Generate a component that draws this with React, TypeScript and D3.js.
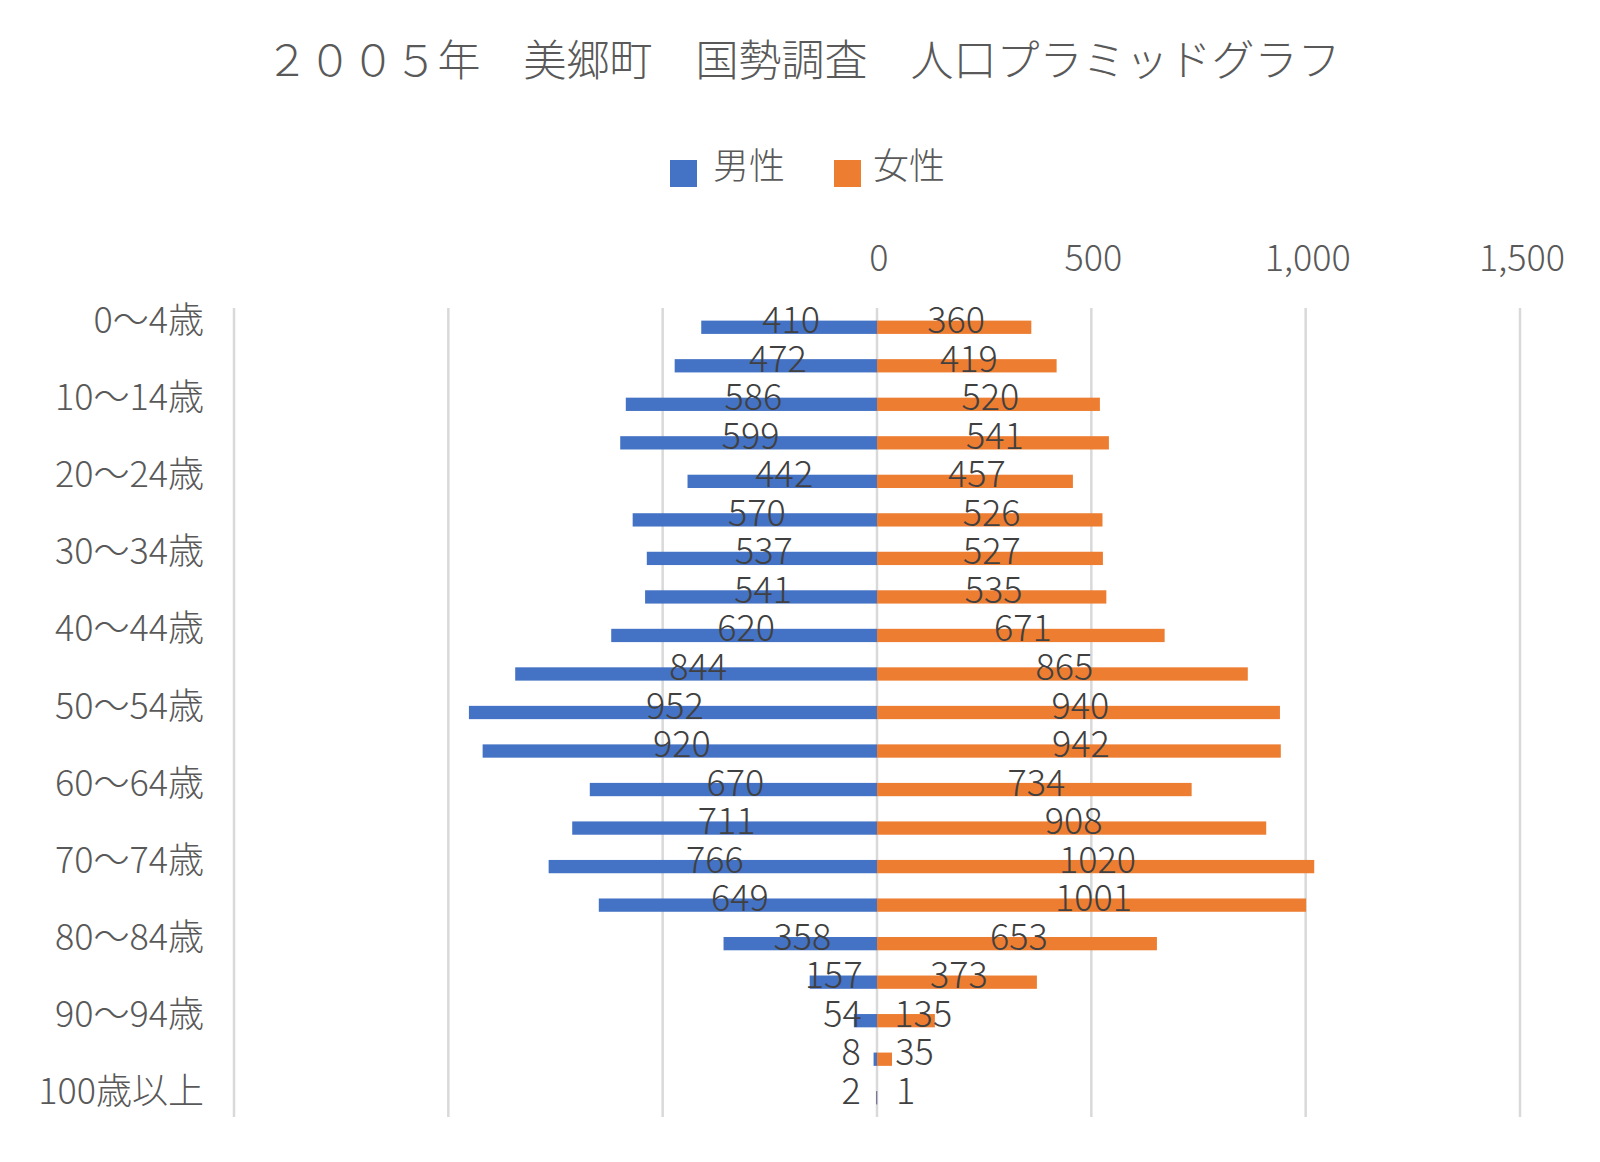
import React from "react";
import * as d3 from "d3";

const categories = [
  "0～4歳", "5～9歳", "10～14歳", "15～19歳", "20～24歳", "25～29歳", "30～34歳",
  "35～39歳", "40～44歳", "45～49歳", "50～54歳", "55～59歳", "60～64歳", "65～69歳",
  "70～74歳", "75～79歳", "80～84歳", "85～89歳", "90～94歳", "95～99歳", "100歳以上",
];
const male = [410, 472, 586, 599, 442, 570, 537, 541, 620, 844, 952, 920, 670, 711, 766, 649, 358, 157, 54, 8, 2];
const female = [360, 419, 520, 541, 457, 526, 527, 535, 671, 865, 940, 942, 734, 908, 1020, 1001, 653, 373, 135, 35, 1];
const xTicks = [-1500, -1000, -500, 0, 500, 1000, 1500];
const tickLabelValues = [0, 500, 1000, 1500];
const title = "２００５年　美郷町　国勢調査　人口プラミッドグラフ";
const seriesNames = ["男性", "女性"];

const W = 1600;
const H = 1162;
const FONT = "'Noto Sans CJK JP', 'Noto Sans', sans-serif";
const TEXT = "#595959";
const LABEL = "#404040";
const BLUE = "#4472C4";
const ORANGE = "#ED7D31";
const GRID = "#D9D9D9";

export default function App() {
  const x = d3.scaleLinear().domain([-1500, 1500]).range([234, 1520]);
  const y = d3
    .scaleBand<string>()
    .domain(categories)
    .range([308, 1117])
    .paddingInner(0.655)
    .paddingOuter(0.3275);
  const bw = y.bandwidth();
  const fmt = d3.format(",");
  const zero = x(0);
  const inkW = (s: string) => s.length * 17.5;

  return (
    <svg
      width={W}
      height={H}
      style={{ position: "absolute", left: 0, top: 0, background: "#fff" }}
      fontFamily={FONT}
      fontWeight={300}
    >
      <rect x={0} y={0} width={W} height={H} fill="#fff" />
      <text x={803} y={76} textAnchor="middle" fontSize={43} fill={TEXT}>
        {title}
      </text>

      {/* legend */}
      <rect x={670} y={160} width={27} height={27} fill={BLUE} />
      <text x={713} y={179} fontSize={36} fill={TEXT}>{seriesNames[0]}</text>
      <rect x={834} y={160} width={27} height={27} fill={ORANGE} />
      <text x={873} y={179} fontSize={36} fill={TEXT}>{seriesNames[1]}</text>

      {/* gridlines */}
      {xTicks.map((t) => (
        <line key={t} x1={x(t)} x2={x(t)} y1={308} y2={1117} stroke={GRID} strokeWidth={2.5} />
      ))}
      {tickLabelValues.map((t) => (
        <text key={t} x={x(t) + 2} y={271} textAnchor="middle" fontSize={36} fill={TEXT}>
          {fmt(t)}
        </text>
      ))}

      {/* category labels */}
      {categories.map((c, i) =>
        i % 2 === 0 ? (
          <text key={c} x={204} y={(y(c) as number) + bw / 2 + 6} textAnchor="end" fontSize={36} fill={TEXT}>
            {c}
          </text>
        ) : null
      )}

      {/* bars */}
      {categories.map((c, i) => (
        <g key={c}>
          <rect x={x(-male[i])} y={y(c)} width={zero - x(-male[i])} height={bw} fill={BLUE} />
          <rect x={zero} y={y(c)} width={x(female[i]) - zero} height={bw} fill={ORANGE} />
        </g>
      ))}

      {/* data labels */}
      {categories.map((c, i) => {
        const cy = (y(c) as number) + bw / 2 + 6;
        const ms = String(male[i]);
        const fs = String(female[i]);
        const mc = Math.min((x(-male[i]) + zero) / 2 + 2, zero - 17 - inkW(ms) / 2);
        const fc = Math.max((x(female[i]) + zero) / 2 + 2, zero + 20 + inkW(fs) / 2);
        return (
          <g key={"l" + c}>
            <text x={mc} y={cy} textAnchor="middle" fontSize={36} fill={LABEL}>{ms}</text>
            <text x={fc} y={cy} textAnchor="middle" fontSize={36} fill={LABEL}>{fs}</text>
          </g>
        );
      })}
    </svg>
  );
}
